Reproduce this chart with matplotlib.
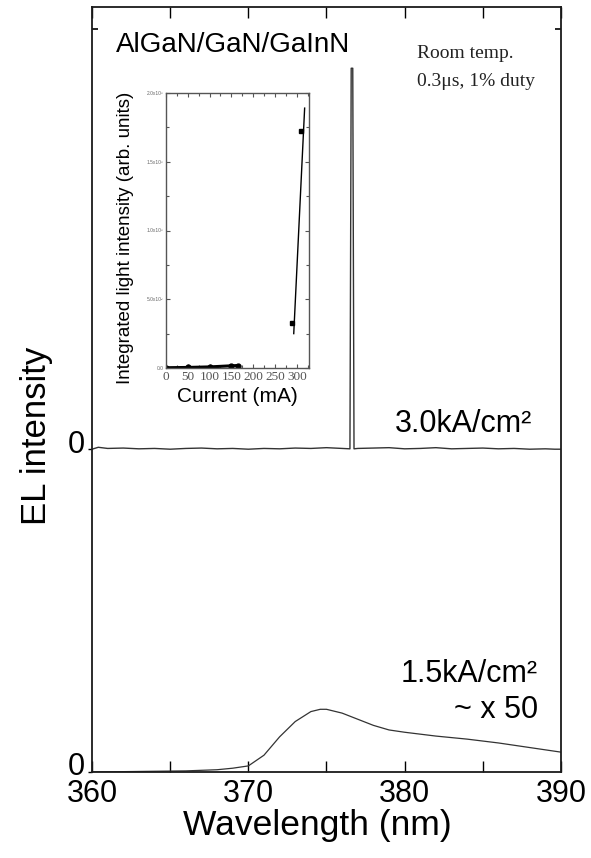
import matplotlib.pyplot as plt
import matplotlib.transforms as mtransforms
from matplotlib.ticker import MultipleLocator, FixedLocator

plt.rcParams['font.family'] = ['Liberation Sans', 'DejaVu Sans']

# EL spectra, wavelength in nm, intensity in arb. units
wl_low = [360, 362, 364, 366, 368, 369, 370, 371, 372, 373, 374, 374.6, 375,
          376, 377, 378, 379, 380, 382, 384, 386, 388, 390]
el_low = [0.0, 0.05, 0.1, 0.15, 0.3, 0.5, 0.8, 2.2, 4.6, 6.6, 7.9, 8.2, 8.2,
          7.7, 6.9, 6.1, 5.5, 5.2, 4.7, 4.3, 3.8, 3.2, 2.6]

wl_high = [360, 360.4, 361, 362, 363, 364, 365, 366, 367, 368, 369, 370, 371,
           372, 373, 374, 375, 376, 376.5, 376.58, 376.68, 376.76, 377, 378,
           379, 380, 381, 382, 383, 384, 385, 386, 387, 388, 389, 389.6, 390]
el_high = [0.0, 0.25, 0.1, 0.15, 0.05, 0.1, 0.0, 0.1, 0.15, 0.05, 0.1, 0.0,
           0.1, 0.05, 0.15, 0.1, 0.2, 0.1, 0.05, 49.8, 49.8, 0.05, 0.1, 0.15,
           0.2, 0.05, 0.1, 0.2, 0.05, 0.1, 0.15, 0.05, 0.1, 0.0, 0.05, 0.0, 0.0]
high_offset = 42.2

# Integrated light intensity vs drive current (inset)
current_low = [0, 50, 100, 150, 165]
intensity_low = [2, 4, 8, 16, 18]
current_high = [290, 310]
intensity_high = [330, 1720]
fit_current = [293, 318]
fit_intensity = [250, 1890]

inset_yticks = [0, 500, 1000, 1500, 2000]
inset_ylabels = ['0.0', '5.0x10\u00b2', '1.0x10\u00b3', '1.5x10\u00b3', '2.0x10\u00b3']

fig = plt.figure(figsize=(5.91, 8.58), dpi=100)
ax = fig.add_axes([0.1557, 0.1002, 0.7935, 0.8916])

line_col = '#333333'
ax.plot(wl_low, el_low, color=line_col, lw=0.9)
ax.plot(wl_high, [v + high_offset for v in el_high], color=line_col, lw=1.0)

ax.set_xlim(360, 390)
ax.set_ylim(0, 100)
ax.xaxis.set_major_locator(MultipleLocator(10))
ax.xaxis.set_minor_locator(MultipleLocator(5))
ax.tick_params(axis='x', which='both', direction='in', top=True, length=8,
               width=1, labelsize=22, pad=5)
ax.set_yticks([0, high_offset])
ax.set_yticklabels(['0', '0'])
ax.yaxis.set_minor_locator(FixedLocator([97.1]))
ax.tick_params(axis='y', which='major', length=3, width=1, labelsize=22, pad=2)
ax.tick_params(axis='y', which='minor', direction='in', left=True, right=True,
               length=4, width=1.2)

# lift the two zero labels slightly above their baselines
for lab, dy in zip(ax.get_yticklabels(), [9, 8]):
    lab.set_transform(lab.get_transform() +
                      mtransforms.ScaledTranslation(0, dy / 100, fig.dpi_scale_trans))

for sp in ax.spines.values():
    sp.set_color('#1a1a1a')
    sp.set_linewidth(1.3)

fig.text(317 / 591, 1 - 826 / 858, 'Wavelength (nm)', fontsize=25.5,
         ha='center', va='center')
fig.text(37 / 591, 1 - 436 / 858, 'EL intensity', rotation=90, fontsize=25,
         ha='center', va='center')

fig.text(116 / 591, 1 - 52 / 858, 'AlGaN/GaN/GaInN', fontsize=20,
         ha='left', va='baseline')
fig.text(417 / 591, 1 - 58 / 858, 'Room temp.', fontsize=14,
         family='Liberation Serif', color='#222222', va='baseline')
fig.text(417 / 591, 1 - 86 / 858, '0.3\u03bcs, 1% duty', fontsize=14,
         family='Liberation Serif', color='#222222', va='baseline')
fig.text(532 / 591, 1 - 432 / 858, '3.0kA/cm\u00b2', fontsize=22,
         ha='right', va='baseline')
fig.text(538 / 591, 1 - 682 / 858, '1.5kA/cm\u00b2', fontsize=22,
         ha='right', va='baseline')
fig.text(538 / 591, 1 - 718 / 858, '~ x 50', fontsize=22,
         ha='right', va='baseline')

# Inset: integrated intensity vs current
ins = fig.add_axes([166 / 591, 1 - 368 / 858, 143 / 591, 275 / 858])
ins.plot(current_low, intensity_low, color='black', lw=2.2, marker='o', ms=3.5)
ins.plot(current_high, intensity_high, 's', color='black', ms=3.5)
ins.plot(fit_current, fit_intensity, color='black', lw=1.0)
ins.set_xlim(0, 328)
ins.set_ylim(0, 2000)
ins.xaxis.set_major_locator(MultipleLocator(50))
ins.xaxis.set_minor_locator(MultipleLocator(25))
ins.set_yticks(inset_yticks)
ins.set_yticklabels(inset_ylabels)
ins.yaxis.set_minor_locator(MultipleLocator(250))
ins.tick_params(which='both', direction='in', top=True, right=True,
                color='#555555', width=0.8)
ins.tick_params(which='major', length=3)
ins.tick_params(which='minor', length=2)
ins.tick_params(axis='x', labelsize=9.5, labelcolor='#555555', pad=2)
ins.tick_params(axis='y', labelsize=3.5, labelcolor='#666666', pad=2)
for lab in ins.get_xticklabels():
    lab.set_family('Liberation Serif')
for sp in ins.spines.values():
    sp.set_color('#555555')
    sp.set_linewidth(1.0)
ins.set_xlabel('Current (mA)', fontsize=15, labelpad=3)
fig.text(126 / 591, 1 - 238 / 858, 'Integrated light intensity (arb. units)',
         rotation=90, fontsize=13.5, ha='center', va='center')

fig.savefig('out.png', dpi=100)
